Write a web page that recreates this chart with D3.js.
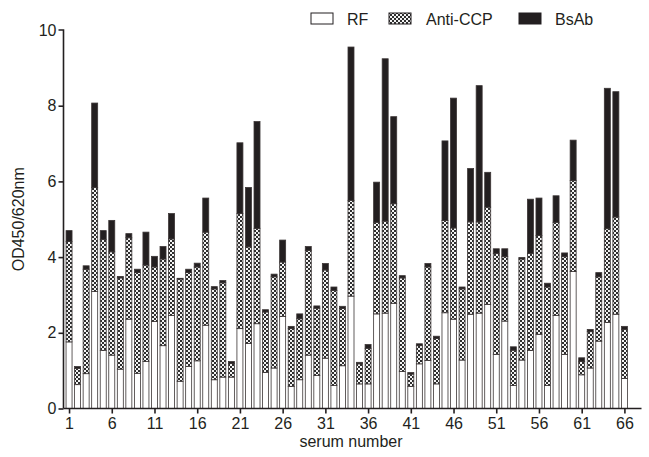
<!DOCTYPE html>
<html>
<head>
<meta charset="utf-8">
<script src="https://cdn.jsdelivr.net/npm/d3@7"></script>
<style>
  body { margin: 0; background: #fff; }
  svg { display: block; font-family: "Liberation Sans", Arial, sans-serif; }
</style>
</head>
<body>
<div id="chart"></div>
<script>
// serum numbers 1..66 and the three stacked components
const serum = d3.range(1, 67);
const rf = [1.76,0.63,0.92,3.09,1.53,1.41,1.04,2.36,0.93,1.24,2.30,1.66,2.46,0.72,1.11,1.26,2.20,0.76,0.83,0.83,
  2.11,1.72,2.24,0.95,1.07,2.43,0.58,0.76,1.41,0.87,1.33,0.61,1.13,2.97,0.65,0.65,2.50,2.52,2.78,0.98,
  0.58,1.18,1.27,0.65,2.53,2.36,1.28,2.49,2.52,2.75,1.43,2.31,0.61,1.28,1.53,1.96,0.61,2.46,1.43,3.62,
  0.89,1.07,1.78,2.27,2.49,0.79];
const antiCcp = [2.65,0.43,2.76,2.75,2.94,2.73,2.41,2.15,2.66,2.55,1.44,2.29,2.02,2.70,2.48,2.48,2.46,2.40,2.49,0.36,
  3.04,2.55,2.52,1.60,2.41,1.44,1.53,1.61,2.77,1.78,2.33,2.51,1.51,2.53,0.53,0.94,2.42,2.43,2.63,2.47,
  0.33,0.48,2.47,1.20,2.44,2.41,1.88,2.44,2.41,2.57,2.67,1.70,0.93,2.67,2.57,2.61,2.60,2.46,2.58,2.40,
  0.35,0.96,1.70,2.48,2.57,1.30];
const bsAb = [0.29,0.05,0.09,2.23,0.23,0.83,0.04,0.11,0.09,0.87,0.28,0.33,0.67,0.02,0.09,0.10,0.90,0.06,0.06,0.05,
  1.87,1.57,2.82,0.06,0.07,0.58,0.06,0.13,0.10,0.06,0.17,0.09,0.06,4.05,0.04,0.10,1.06,4.29,2.30,0.06,
  0.04,0.05,0.09,0.06,2.10,3.43,0.05,1.41,3.60,0.92,0.12,0.21,0.09,0.04,1.43,0.99,0.10,0.70,0.10,1.07,
  0.10,0.06,0.11,3.71,3.31,0.08];
const seriesNames = ['RF', 'Anti-CCP', 'BsAb'];
const xTicks = [1, 6, 11, 16, 21, 26, 31, 36, 41, 46, 51, 56, 61, 66];
const yTicks = [0, 2, 4, 6, 8, 10];

const width = 649, height = 457;
const ink = '#231f20';

const svg = d3.select('#chart').append('svg')
  .attr('width', width)
  .attr('height', height);

// checkered fill for Anti-CCP
const defs = svg.append('defs');
const pat = defs.append('pattern')
  .attr('id', 'checker')
  .attr('patternUnits', 'userSpaceOnUse')
  .attr('width', 4).attr('height', 4);
pat.append('rect').attr('width', 4).attr('height', 4).attr('fill', '#f4f4f4');
pat.append('rect').attr('width', 2).attr('height', 2).attr('fill', '#2e2e2e');
pat.append('rect').attr('x', 2).attr('y', 2).attr('width', 2).attr('height', 2).attr('fill', '#2e2e2e');

const fills = { 'RF': '#ffffff', 'Anti-CCP': 'url(#checker)', 'BsAb': '#231f20' };

const x = d3.scaleLinear().domain([0, 68]).range([60.5, 641.5]);
const y = d3.scaleLinear().domain([0, 10]).range([408.5, 30]);
const barW = 6;

const rows = serum.map((s, i) => ({ serum: s, 'RF': rf[i], 'Anti-CCP': antiCcp[i], 'BsAb': bsAb[i] }));
const stacked = d3.stack().keys(seriesNames)(rows);

const layers = svg.append('g').selectAll('g')
  .data(stacked)
  .join('g')
  .attr('fill', d => fills[d.key]);

layers.selectAll('rect')
  .data(d => d)
  .join('rect')
  .attr('x', d => x(d.data.serum) - barW / 2)
  .attr('width', barW)
  .attr('y', d => y(d[1]))
  .attr('height', d => y(d[0]) - y(d[1]))
  .attr('stroke', '#3b3535')
  .attr('stroke-width', 0.8);

// axes
const yAxis = svg.append('g')
  .attr('transform', `translate(${x(0) + 3},0)`)
  .call(d3.axisLeft(y).tickValues(yTicks).tickSize(5).tickPadding(2));
const xAxis = svg.append('g')
  .attr('transform', `translate(0,${y(0)})`)
  .call(d3.axisBottom(x).tickValues(xTicks).tickSize(5).tickPadding(4).tickSizeOuter(0));

yAxis.select('.domain').attr('d', `M-5,${y(10)}H0V${y(0)}`);
xAxis.select('.domain').attr('d', `M${x(0) + 3},0H${x(68)}`);

[yAxis, xAxis].forEach(a => {
  a.selectAll('.domain, .tick line').attr('stroke', ink).attr('stroke-width', 1.6);
  a.selectAll('.tick text').attr('fill', ink).style('font-size', '16px');
});
yAxis.selectAll('.tick').filter(d => d === 10).select('line').remove();

svg.append('text')
  .attr('transform', `translate(24,${(y(0) + y(10)) / 2}) rotate(-90)`)
  .attr('text-anchor', 'middle')
  .attr('fill', ink)
  .style('font-size', '16px')
  .text('OD450/620nm');

svg.append('text')
  .attr('x', (x(0) + x(68)) / 2)
  .attr('y', 447)
  .attr('text-anchor', 'middle')
  .attr('fill', ink)
  .style('font-size', '16px')
  .text('serum number');

// legend
const legendPos = [
  { key: 'RF', rx: 311, tx: 347 },
  { key: 'Anti-CCP', rx: 389, tx: 426 },
  { key: 'BsAb', rx: 519, tx: 555 }
];
const legend = svg.append('g');
legendPos.forEach(l => {
  legend.append('rect')
    .attr('x', l.rx).attr('y', 13)
    .attr('width', 22).attr('height', 11)
    .attr('fill', fills[l.key])
    .attr('stroke', ink)
    .attr('stroke-width', 1);
  legend.append('text')
    .attr('x', l.tx).attr('y', 25)
    .attr('fill', ink)
    .style('font-size', '16px')
    .text(l.key);
});
</script>
</body>
</html>
